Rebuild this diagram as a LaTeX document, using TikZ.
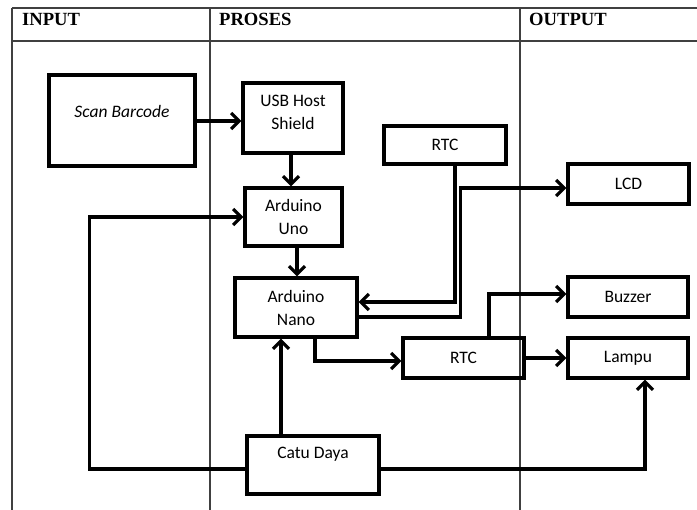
\documentclass[tikz,border=0pt]{standalone}
\usepackage{fontspec}
\setmainfont{Carlito}
\newfontfamily\hdrfont{Liberation Serif}
\usetikzlibrary{arrows.meta}
\begin{document}
\begin{tikzpicture}[x=1pt,y=-1pt,
  grid/.style={line width=1.1pt, draw=black!75},
  hdr/.style={anchor=base west, inner sep=0pt, font=\hdrfont\bfseries\fontsize{18.6}{20}\selectfont},
  box/.style={draw=black, line width=3.3pt, inner sep=0pt, align=center, font=\fontsize{17.5}{23}\selectfont},
  txt/.style={inner sep=0pt, align=center, font=\fontsize{17.5}{23}\selectfont},
  arr/.style={line width=3.1pt, -{Straight Barb[length=8pt,width=16pt]}}
]
\useasboundingbox (0,0) rectangle (697,510);
% table
\draw[grid] (12,8) -- (697,8);
\draw[grid] (12,41) -- (697,41);
\draw[grid] (12,8) -- (12,510);
\draw[grid] (210,8) -- (210,510);
\draw[grid] (520,8) -- (520,510);
\node[hdr] (hin) at (22,25.5) {INPUT};
\node[hdr] (hpr) at (219,25.5) {PROSES};
\node[hdr] (hout) at (529,25.5) {OUTPUT};
% boxes
\node[box, minimum width=146pt, minimum height=91pt] (scan) at (122,120.5) {};
\node[txt, font=\itshape\fontsize{17.5}{23}\selectfont] (scant) at (122,111) {Scan Barcode};
\node[box, minimum width=100pt, minimum height=70pt] (usb) at (293,118) {};
\node[txt] (usbt) at (293,112) {USB Host\\Shield};
\node[box, minimum width=97pt, minimum height=58pt] (uno) at (293.5,217) {Arduino\\Uno};
\node[box, minimum width=122pt, minimum height=59pt] (nano) at (296,307.5) {Arduino\\Nano};
\node[box, minimum width=122pt, minimum height=38pt] (rtca) at (445,145) {RTC};
\node[box, minimum width=121pt, minimum height=40pt] (lcd) at (628.5,184) {LCD};
\node[box, minimum width=120pt, minimum height=40pt] (buz) at (628,297) {Buzzer};
\node[box, minimum width=120pt, minimum height=40pt] (lampu) at (628,358) {Lampu};
\node[box, minimum width=121pt, minimum height=40pt] (rtcb) at (463.5,358) {RTC};
\node[box, minimum width=132pt, minimum height=58pt] (catu) at (313,465) {};
\node[txt] (catut) at (313,454) {Catu Daya};
% connectors
\draw[arr] ([yshift=-0.5pt]scan.east) -- ([yshift=-0.5pt]scan.east -| usb.west);
\draw[arr] ([xshift=-2pt]usb.south) -- ([xshift=-2pt]usb.south |- uno.north);
\draw[arr] ([xshift=3.5pt]uno.south) -- ([xshift=3.5pt]uno.south |- nano.north);
\draw[arr] ([xshift=-32pt]catu.north) -- ([xshift=-32pt]catu.north |- nano.south);
\draw[arr] ([yshift=-4pt]catu.west) -| ([xshift=-154pt]uno.west) -- (uno.west);
\draw[arr] ([yshift=-4pt]catu.east) -| ([xshift=17pt]lampu.south);
\draw[arr] ([xshift=19pt]nano.south) |- ([yshift=-3pt]rtcb.west);
\draw[arr] ([xshift=10pt]rtca.south) |- ([yshift=5.5pt]nano.east);
\coordinate (lcdin) at ([yshift=-4pt]lcd.west);
\draw[arr] ([yshift=-9.5pt]nano.east) -| ([xshift=-106pt]lcdin) -- (lcdin);
\draw[arr] ([xshift=25.5pt]rtcb.north) |- ([yshift=3pt]buz.west);
\draw[arr] (rtcb.east) -- (lampu.west);
\end{tikzpicture}
\end{document}
